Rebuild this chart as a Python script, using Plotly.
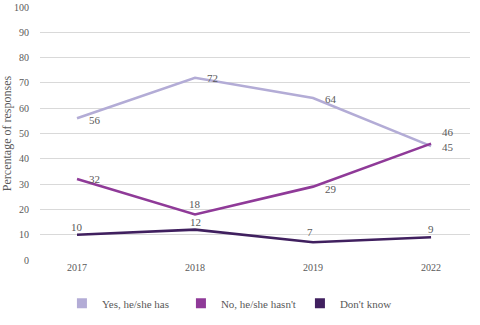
import plotly.graph_objects as go

years = ["2017", "2018", "2019", "2022"]
yes_vals = [56, 72, 64, 45]
no_vals = [32, 18, 29, 46]
dk_vals = [10, 12, 7, 9]
y_ticks = [0, 10, 20, 30, 40, 50, 60, 70, 80, 90, 100]
names = ["Yes, he/she has", "No, he/she hasn't", "Don't know"]
colors = ["#b3acd6", "#8f3a98", "#40205f"]

FONT = "Liberation Serif, DejaVu Serif, serif"
GREY = "#595959"

xi = list(range(len(years)))
series = [yes_vals, no_vals, dk_vals]
# label placement style: (xanchor, xshift, yshift) per point
label_style = [
    [("left", 10, -2), ("left", 10, 0), ("left", 10, -1), ("left", 9, -1)],
    [("left", 10, 0), ("center", 0, 10), ("left", 10, -2), ("left", 9, 12)],
    [("center", 0, 8), ("center", 0, 8), ("center", -3, 10), ("center", 0, 8)],
]

fig = go.Figure()
for vals, name, col in zip(series, names, colors):
    fig.add_trace(go.Scatter(
        x=xi, y=vals, name=name, mode="lines", showlegend=False,
        line=dict(color=col, width=2.6),
    ))
for name, col in zip(names, colors):
    fig.add_trace(go.Scatter(
        x=[None], y=[None], name=name, mode="markers",
        marker=dict(symbol="square", size=10, color=col),
    ))

for vals, styles in zip(series, label_style):
    for xv, v, (xa, xs, ys) in zip(xi, vals, styles):
        fig.add_annotation(
            x=xv, y=v, text=str(v), showarrow=False,
            xanchor=xa, yanchor="middle", xshift=xs, yshift=ys,
            font=dict(family=FONT, size=11, color=GREY),
        )

fig.update_layout(
    width=480, height=325,
    margin=dict(l=40, r=10, t=7, b=65, autoexpand=False),
    paper_bgcolor="white", plot_bgcolor="white",
    font=dict(family=FONT, size=10, color=GREY),
    showlegend=True,
    legend=dict(orientation="h", x=0.051, xanchor="left", y=-0.114, yanchor="top",
                font=dict(family=FONT, size=11, color=GREY),
                itemwidth=30, entrywidth=74, entrywidthmode="pixels"),
    xaxis=dict(tickmode="array", tickvals=xi, ticktext=years, automargin=False,
               range=[-0.3136, 3.33], showgrid=False, zeroline=False,
               showline=False, ticks="", tickfont=dict(family=FONT, size=10, color=GREY)),
    yaxis=dict(range=[0, 100], tickvals=y_ticks, showgrid=True, gridcolor="#d9d9d9",
               gridwidth=1, zeroline=False, ticks="", ticklabelstandoff=10, automargin=False,
               title=dict(text="Percentage of responses", font=dict(family=FONT, size=12, color=GREY), standoff=6),
               tickfont=dict(family=FONT, size=10, color=GREY)),
)

fig.write_html("out.html")
